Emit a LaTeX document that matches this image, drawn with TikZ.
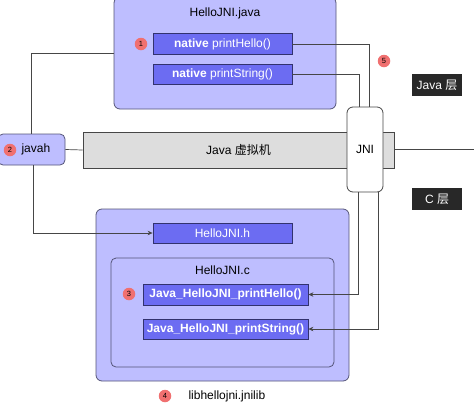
\documentclass[tikz,border=0pt]{standalone}
\usepackage{fontspec}
\setmainfont{Liberation Sans}
\newfontfamily\cjk{Noto Sans CJK SC}
\usetikzlibrary{arrows.meta}
\definecolor{lav}{RGB}{190,190,255}
\definecolor{lavborder}{RGB}{85,85,120}
\definecolor{blu}{RGB}{108,108,242}
\definecolor{bluborder}{RGB}{50,50,110}
\definecolor{vmgray}{RGB}{221,221,221}
\definecolor{badgered}{RGB}{240,112,112}
\definecolor{labeldark}{RGB}{40,40,40}
\definecolor{wire}{RGB}{70,70,70}
\tikzset{
  txt/.style={font=\fontsize{12}{14}\selectfont},
  bigbox/.style={draw=lavborder,fill=lav,line width=0.8pt,rounded corners=6pt,inner sep=0pt},
  funcbox/.style={draw=bluborder,fill=blu,line width=0.8pt,inner sep=0pt,text=white,txt},
  badge/.style={circle,fill=badgered,inner sep=0pt,minimum size=12.5pt,font=\fontsize{7.5}{8}\selectfont},
  layerlabel/.style={fill=labeldark,text=white,inner sep=0pt,minimum width=50pt,minimum height=22pt,txt},
  wireline/.style={draw=wire,line width=0.7pt},
  arr/.style={wireline,-{Stealth[length=5pt,width=4.5pt]}}
}
\begin{document}
\begin{tikzpicture}[x=1pt,y=-1pt]
\useasboundingbox (0,0) rectangle (474,408);
% boxes
\node[bigbox,minimum width=222pt,minimum height=112pt] (javabox) at (225,53) {};
\node[txt] (javatitle) at (225,13) {HelloJNI.java};
\node[funcbox,minimum width=139pt,minimum height=21pt] (hello) at (222.5,44) {\textbf{native} printHello()};
\node[funcbox,minimum width=139pt,minimum height=20pt] (string) at (222.5,74) {\textbf{native} printString()};

\node[bigbox,minimum width=253pt,minimum height=172pt] (cbox) at (222.5,295) {};
\node[funcbox,minimum width=139pt,minimum height=20pt] (hbox) at (222.5,233) {HelloJNI.h};
\node[draw=lavborder,fill=lav,line width=0.8pt,rounded corners=5pt,minimum width=223pt,minimum height=109pt,inner sep=0pt] (cfile) at (222.5,312.5) {};
\node[txt] (ctitle) at (222.5,270) {HelloJNI.c};
\node[funcbox,minimum width=165pt,minimum height=21pt,font=\fontsize{12}{14}\selectfont\bfseries] (chello) at (225.5,294.5) {Java\_HelloJNI\_printHello()};
\node[funcbox,minimum width=165pt,minimum height=20pt,font=\fontsize{12}{14}\selectfont\bfseries] (cstring) at (225.5,329) {Java\_HelloJNI\_printString()};

% VM bar
\node[draw=wire,fill=vmgray,line width=0.8pt,minimum width=311pt,minimum height=36pt,inner sep=0pt,txt] (vm) at (238.5,150) {Java {\cjk 虚拟机}};
\node[draw=wire,fill=white,line width=0.8pt,rounded corners=6pt,minimum width=36pt,minimum height=85pt,inner sep=0pt,txt] (jni) at (365,149.5) {JNI};
\node[draw=lavborder,fill=lav,line width=0.8pt,rounded corners=5pt,minimum width=67pt,minimum height=31pt,inner sep=0pt] (javah) at (31.5,149.5) {};
\node[txt,anchor=west] (javahtxt) at (18,149.5) {javah};

% labels
\node[layerlabel] (javalayer) at (437,85) {Java {\cjk 层}};
\node[layerlabel] (clayer) at (437,199) {C {\cjk 层}};
\node[txt,anchor=west] (lib) at (185,396) {libhellojni.jnilib};

% badges
\node[badge] (b1) at (141,44) {1};
\node[badge] (b2) at (10,150) {2};
\node[badge] (b3) at (129,294) {3};
\node[badge] (b4) at (165,396) {4};
\node[badge] (b5) at (384,61) {5};

% connectors
\coordinate (rightend) at (474,149);
\draw[wireline] (javah.north) |- (javabox.west);
\draw[wireline] (javah.east) -- (vm.west);
\draw[arr] ([xshift=2pt]javah.south) |- (hbox.west);
\draw[wireline] (hello.east) -| ([xshift=4pt]jni.north);
\draw[wireline] (string.east) -| ([xshift=-6pt]jni.north);
\draw[arr] ([xshift=-7pt]jni.south) |- (chello.east);
\draw[arr] ([xshift=13pt]jni.south) |- (cstring.east);
\draw[wireline] (vm.east |- rightend) -- (rightend);
\end{tikzpicture}
\end{document}
